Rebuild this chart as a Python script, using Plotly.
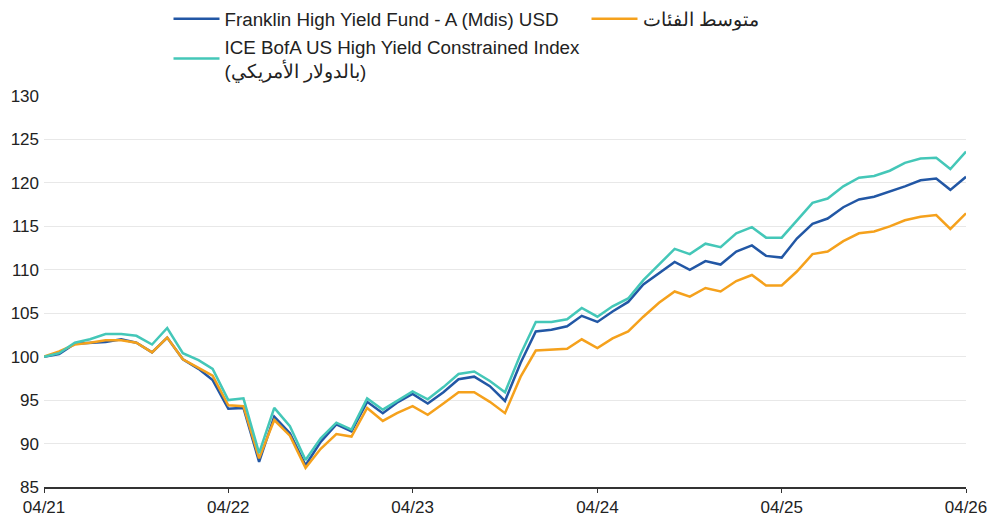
import plotly.graph_objects as go
import pandas as pd

dates = pd.date_range("2021-04-01", periods=61, freq="MS")

fund = [100.0, 100.3, 101.5, 101.6, 101.7, 102.0, 101.6, 100.5, 102.2, 99.7,
        98.6, 97.3, 94.0, 94.1, 87.9, 93.1, 91.2, 87.5, 90.2, 92.2,
        91.4, 94.8, 93.5, 94.7, 95.7, 94.6, 95.9, 97.4, 97.7, 96.6,
        94.9, 99.3, 102.9, 103.1, 103.5, 104.7, 104.0, 105.2, 106.3, 108.3,
        109.6, 110.9, 110.0, 111.0, 110.6, 112.1, 112.8, 111.6, 111.4, 113.6,
        115.3, 115.9, 117.2, 118.1, 118.4, 119.0, 119.6, 120.3, 120.5, 119.2,
        120.7]

index = [100.0, 100.4, 101.6, 102.0, 102.6, 102.6, 102.4, 101.4, 103.3, 100.4,
         99.6, 98.6, 95.0, 95.2, 88.9, 94.1, 92.0, 88.1, 90.6, 92.4,
         91.6, 95.2, 93.9, 94.9, 96.0, 95.1, 96.5, 98.0, 98.3, 97.2,
         95.9, 100.3, 104.0, 104.0, 104.3, 105.6, 104.6, 105.8, 106.7, 108.8,
         110.6, 112.4, 111.8, 113.0, 112.6, 114.2, 114.9, 113.7, 113.7, 115.7,
         117.7, 118.2, 119.6, 120.6, 120.8, 121.4, 122.3, 122.8, 122.9, 121.6,
         123.6]

category = [100.0, 100.6, 101.4, 101.6, 101.9, 101.9, 101.6, 100.5, 102.2, 99.7,
            98.7, 97.8, 94.4, 94.3, 88.3, 92.7, 90.9, 87.2, 89.4, 91.1,
            90.8, 94.1, 92.6, 93.5, 94.3, 93.3, 94.6, 95.9, 95.9, 94.8,
            93.5, 97.7, 100.7, 100.8, 100.9, 102.0, 101.0, 102.1, 102.9, 104.6,
            106.2, 107.5, 106.9, 107.9, 107.5, 108.7, 109.4, 108.2, 108.2, 109.8,
            111.8, 112.1, 113.3, 114.2, 114.4, 115.0, 115.7, 116.1, 116.3, 114.7,
            116.5]

name_fund = "Franklin High Yield Fund - A (Mdis) USD"
name_cat = "متوسط الفئات"
name_index = "ICE BofA US High Yield Constrained Index<br>(بالدولار الأمريكي)"

tick_vals = pd.date_range("2021-04-01", periods=6, freq="12MS")
tick_text = ["04/21", "04/22", "04/23", "04/24", "04/25", "04/26"]
y_ticks = [85, 90, 95, 100, 105, 110, 115, 120, 125, 130]

fig = go.Figure()
fig.add_trace(go.Scatter(x=dates, y=fund, name=name_fund, mode="lines",
                         line=dict(color="#2257a5", width=2.5)))
fig.add_trace(go.Scatter(x=dates, y=category, name=name_cat, mode="lines",
                         line=dict(color="#f5a11c", width=2.5)))
fig.add_trace(go.Scatter(x=dates, y=index, name=name_index, mode="lines",
                         line=dict(color="#44c7b8", width=2.5)))

fig.update_layout(
    width=1003, height=518,
    margin=dict(l=44, r=37, t=96, b=31, autoexpand=False),
    paper_bgcolor="white", plot_bgcolor="white",
    font=dict(family="Liberation Sans, Arial, sans-serif", size=16, color="#222222"),
    showlegend=True,
    legend=dict(orientation="h", xref="container", yref="container",
                x=0.168, y=1.0, xanchor="left", yanchor="top",
                entrywidth=357, entrywidthmode="pixels",
                font=dict(size=18.8, color="#222222"),
                itemwidth=46, tracegroupgap=0, bgcolor="rgba(0,0,0,0)"),
    xaxis=dict(range=[dates[0], dates[-1]], tickvals=tick_vals, ticktext=tick_text,
               showgrid=False, showline=True, linecolor="#333333", linewidth=1.5,
               ticks="outside", ticklen=4, tickcolor="#333333",
               tickfont=dict(size=17, color="#222222"), zeroline=False, fixedrange=True),
    yaxis=dict(range=[85, 130], tickvals=y_ticks, showgrid=True, gridcolor="#e8e8e8",
               gridwidth=1, showline=False, zeroline=False, ticks="",
               tickfont=dict(size=17, color="#222222"), ticklabelstandoff=4,
               fixedrange=True),
)

fig.write_html("out.html", config={"displayModeBar": False},
               post_script="document.body.style.margin='0';")
